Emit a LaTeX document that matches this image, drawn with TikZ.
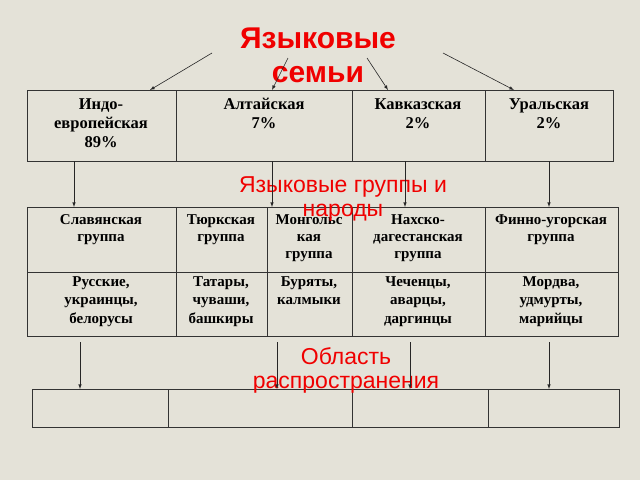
\documentclass[tikz,border=0pt]{standalone}
\usepackage{fontspec}
\setmainfont{Liberation Serif}
\newfontfamily\ttl{Liberation Sans}
\definecolor{bg}{HTML}{E4E2D8}
\definecolor{ttlred}{HTML}{F00000}
\begin{document}
\begin{tikzpicture}[x=1pt,y=-1pt,
  cell/.style={draw=black!80,line width=0.9pt},
  txt/.style={anchor=north,align=center,font=\bfseries\fontsize{16.5}{19}\selectfont,inner sep=0pt},
  txtb/.style={anchor=north,align=center,font=\bfseries\fontsize{15}{17}\selectfont,inner sep=0pt},
  txtc/.style={anchor=north,align=center,font=\bfseries\fontsize{15}{18.5}\selectfont,inner sep=0pt},
  arr/.style={-latex,black!85,line width=0.6pt},
  red1/.style={text=ttlred,font=\ttl\bfseries\fontsize{30}{34}\selectfont,align=center,inner sep=0pt},
  red2/.style={text=ttlred,font=\ttl\fontsize{23}{24}\selectfont,align=center,inner sep=0pt}]
\fill[bg] (0,0) rectangle (640,480);
\useasboundingbox (0,0) rectangle (640,480);
% table 1
\draw[cell] (27,90) rectangle (613,161);
\foreach \x in {176,352,485} \draw[cell] (\x,90) -- (\x,161);
\coordinate (t1a) at (150,90); \coordinate (t1b) at (272,90);
\coordinate (t1c) at (388,90); \coordinate (t1d) at (514,90);
\node[txt] (c1) at (101,98) {Индо-\\европейская\\89\%};
\node[txt] (c2) at (264,98) {Алтайская\\7\%};
\node[txt] (c3) at (418,98) {Кавказская\\2\%};
\node[txt] (c4) at (549,98) {Уральская\\2\%};
% table 2
\draw[cell] (27,207) rectangle (618,336);
\draw[cell] (27,272) -- (618,272);
\foreach \x in {176,267,352,485} \draw[cell] (\x,207) -- (\x,336);
\node[txtb] (g1) at (101,214) {Славянская\\группа};
\node[txtb] (g2) at (221,214) {Тюркская\\группа};
\node[txtb] (g3) at (309,214) {Монгольс\\кая\\группа};
\node[txtb] (g4) at (418,214) {Нахско-\\дагестанская\\группа};
\node[txtb] (g5) at (551,214) {Финно-угорская\\группа};
\node[txtc] (p1) at (101,276) {Русские,\\украинцы,\\белорусы};
\node[txtc] (p2) at (221,276) {Татары,\\чуваши,\\башкиры};
\node[txtc] (p3) at (309,276) {Буряты,\\калмыки};
\node[txtc] (p4) at (418,276) {Чеченцы,\\аварцы,\\даргинцы};
\node[txtc] (p5) at (551,276) {Мордва,\\удмурты,\\марийцы};
% table 3
\draw[cell] (32,389) rectangle (619,427);
\foreach \x in {168,352,488} \draw[cell] (\x,389) -- (\x,427);
% titles
\node[red1] (tt) at (318,55) {Языковые\\семьи};
\node[red2] (gt) at (343,199) {Языковые группы и\\народы};
\node[red2] (at) at (346,370) {Область\\распространения};
% arrows top
\coordinate (s1) at (212,53); \coordinate (s2) at (288,58);
\coordinate (s3) at (367,58); \coordinate (s4) at (443,53);
\draw[arr] (s1) -- (t1a); \draw[arr] (s2) -- (t1b);
\draw[arr] (s3) -- (t1c); \draw[arr] (s4) -- (t1d);
% arrows mid
\foreach \x in {74,272,405,549} {\coordinate (ma\x) at (\x,161); \coordinate (mb\x) at (\x,207); \draw[arr] (ma\x) -- (mb\x);}
% arrows low
\foreach \x in {80,277,410,549} {\coordinate (la\x) at (\x,342); \coordinate (lb\x) at (\x,389); \draw[arr] (la\x) -- (lb\x);}
\end{tikzpicture}
\end{document}
